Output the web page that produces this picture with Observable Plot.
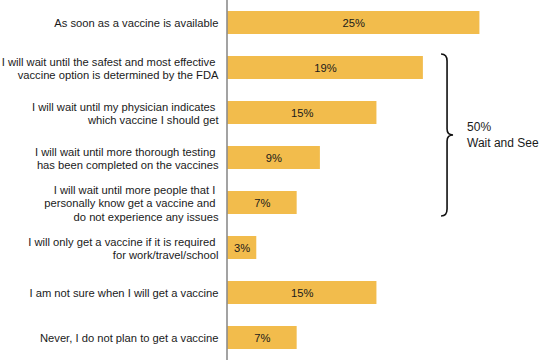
<!DOCTYPE html>
<html>
<head>
<meta charset="utf-8">
<script src="https://cdn.jsdelivr.net/npm/d3@7"></script>
<script src="https://cdn.jsdelivr.net/npm/@observablehq/plot@0.6"></script>
<style>
  html, body { margin: 0; padding: 0; background: #fff; }
  #chart svg { display: block; }
</style>
</head>
<body>
<div id="chart"></div>
<script>
const NB = "\u00a0";
const categories = [
  "As soon as a vaccine is available",
  "I will wait until the safest and most effective" + NB + "\nvaccine option is determined by the FDA",
  "I will wait until my physician indicates" + NB + "\nwhich vaccine I should get",
  "I will wait until more thorough testing" + NB + "\nhas been completed on the vaccines",
  "I will wait until more people that I" + NB + "\npersonally know get a vaccine and" + NB + "\ndo not experience any issues",
  "I will only get a vaccine if it is required" + NB + "\nfor work/travel/school",
  "I am not sure when I will get a vaccine",
  "Never, I do not plan to get a vaccine"
];
const values = [25, 19.4, 14.8, 9.2, 6.9, 2.9, 14.8, 6.9];
const valueLabels = ["25%", "19%", "15%", "9%", "7%", "3%", "15%", "7%"];
const groupFirst = categories[1];
const groupLast = categories[4];
const groupLabel = ["50%", "Wait and See"];
const braceValue = 21.2;

const data = categories.map((c, i) => ({category: c, value: values[i], label: valueLabels[i]}));

const FONT = "Arial, 'Liberation Sans', Helvetica, sans-serif";

function braceMark(index, scales, values, dimensions) {
  const x = scales.x, y = scales.y;
  const bw = typeof y.bandwidth === "function" ? y.bandwidth() : y.bandwidth;
  const y0 = y(groupFirst) - 2;
  const y1 = y(groupLast) + bw + 2;
  const ym = (y0 + y1) / 2;
  const x0 = x(braceValue);
  const g = d3.create("svg:g");
  g.append("path")
    .attr("fill", "none")
    .attr("stroke", "#111")
    .attr("stroke-width", 1.6)
    .attr("d", `M${x0},${y0} Q${x0 + 6},${y0} ${x0 + 6},${y0 + 7} L${x0 + 6},${ym - 6} Q${x0 + 6},${ym} ${x0 + 12},${ym} Q${x0 + 6},${ym} ${x0 + 6},${ym + 6} L${x0 + 6},${y1 - 7} Q${x0 + 6},${y1} ${x0},${y1}`);
  const t = g.append("text")
    .attr("font-family", FONT)
    .attr("font-size", 12)
    .attr("text-anchor", "start")
    .attr("fill", "#1a1a1a");
  t.append("tspan").attr("x", x0 + 26).attr("y", ym - 4).text(groupLabel[0]);
  t.append("tspan").attr("x", x0 + 26).attr("y", ym + 12).text(groupLabel[1]);
  return g.node();
}

const chart = Plot.plot({
  width: 540,
  height: 360,
  marginLeft: 227,
  marginRight: 0,
  marginTop: 0,
  marginBottom: 0,
  style: {fontFamily: FONT, background: "#fff"},
  x: {domain: [0, 31], axis: null},
  y: {domain: categories, paddingInner: 0.5, paddingOuter: 0.2, axis: null},
  marks: [
    Plot.barX(data, {x: "value", y: "category", fill: "#F2BC4C"}),
    Plot.ruleX([0], {stroke: "#8c8c8c", strokeWidth: 1.6, dx: -0.5}),
    Plot.text(data, {x: d => d.value / 2, y: "category", text: "label", fill: "#1a1a1a", fontSize: 11.2}),
    Plot.text(data, {x: 0, y: "category", text: "category", textAnchor: "end", dx: -9, fill: "#1a1a1a", fontSize: 11.2, lineHeight: 1.2}),
    braceMark
  ]
});
document.getElementById("chart").appendChild(chart);
</script>
</body>
</html>
